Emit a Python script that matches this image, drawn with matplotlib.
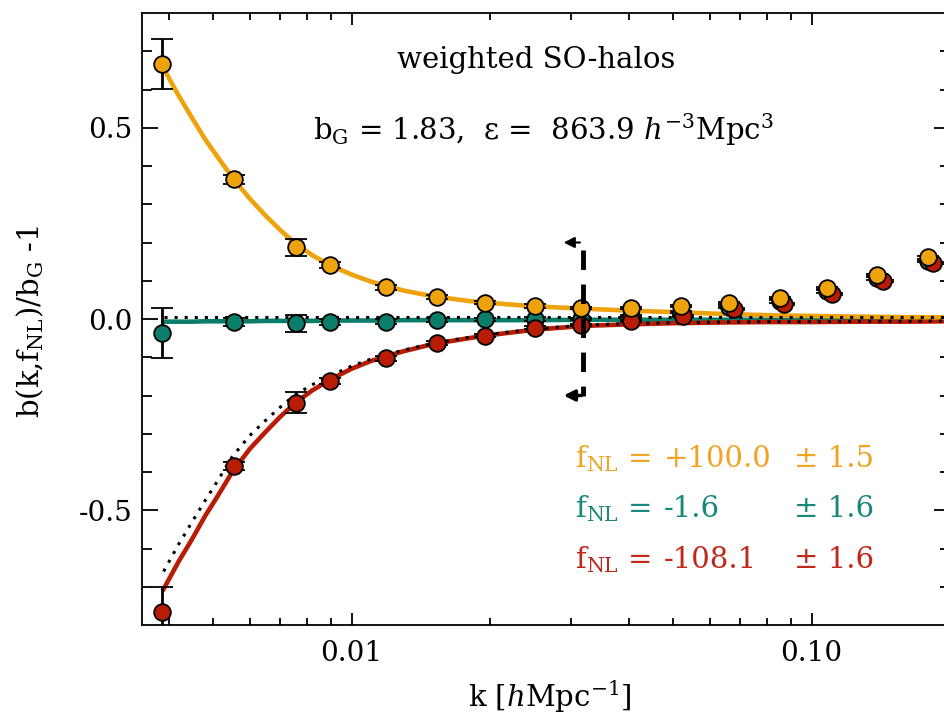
import numpy as np
import matplotlib
matplotlib.use('Agg')
import matplotlib.pyplot as plt

plt.rcParams['font.family'] = 'DejaVu Serif'
plt.rcParams['mathtext.fontset'] = 'custom'
plt.rcParams['mathtext.rm'] = 'DejaVu Serif'
plt.rcParams['mathtext.it'] = 'DejaVu Serif:italic'

# measured points
k = [0.00386, 0.00554, 0.00755, 0.00896, 0.0119, 0.0153, 0.0195, 0.0250,
     0.0316, 0.0404, 0.0519, 0.0663, 0.0852, 0.108, 0.139, 0.179]
k_red = [0.00386, 0.00554, 0.00755, 0.00896, 0.0119, 0.0153, 0.0195, 0.0250,
         0.0316, 0.0404, 0.0525, 0.0678, 0.0872, 0.111, 0.143, 0.184]
b_pos = [0.667, 0.365, 0.188, 0.141, 0.083, 0.057, 0.042, 0.034,
         0.029, 0.029, 0.034, 0.042, 0.055, 0.081, 0.115, 0.161]
b_zero = [-0.037, -0.008, -0.011, -0.008, -0.007, -0.003, -0.001, 0.0,
          0.0, 0.008, 0.018, 0.032, 0.046, 0.072, 0.106, 0.152]
b_neg = [-0.766, -0.385, -0.219, -0.161, -0.103, -0.0625, -0.044, -0.023,
         -0.016, -0.005, 0.008, 0.026, 0.040, 0.066, 0.100, 0.146]
err_pos = [0.065, 0.012, 0.022, 0.008, 0.006, 0.005, 0.004, 0.004,
           0.003, 0.003, 0.003, 0.003, 0.003, 0.003, 0.003, 0.003]
err_zero = [0.065, 0.010, 0.022, 0.008, 0.006, 0.005, 0.004, 0.004,
            0.003, 0.003, 0.003, 0.003, 0.003, 0.003, 0.003, 0.003]
err_neg = [0.065, 0.010, 0.027, 0.008, 0.006, 0.005, 0.004, 0.004,
           0.003, 0.003, 0.003, 0.003, 0.003, 0.003, 0.003, 0.003]

# model curves
k_mod = [0.0039, 0.0042, 0.0045, 0.0048, 0.0051, 0.0055, 0.006, 0.0065, 0.007,
         0.0075, 0.0082, 0.009, 0.01, 0.011, 0.012, 0.013, 0.0145, 0.016, 0.018,
         0.02, 0.025, 0.032, 0.04, 0.05, 0.065, 0.08, 0.1, 0.13, 0.16, 0.2]
fit_pos = [0.655, 0.585, 0.525, 0.47, 0.425, 0.37, 0.315, 0.27, 0.232,
           0.2, 0.167, 0.14, 0.116, 0.098, 0.085, 0.074, 0.063, 0.055, 0.047,
           0.042, 0.033, 0.027, 0.022, 0.018, 0.013, 0.010, 0.008, 0.006, 0.005, 0.004]
fit_zero = [-0.007, -0.007, -0.007, -0.006, -0.006, -0.006, -0.006, -0.005, -0.005,
            -0.005, -0.005, -0.004, -0.004, -0.004, -0.004, -0.003, -0.003, -0.003, -0.003,
            -0.003, -0.003, -0.002, -0.002, -0.002, -0.002, -0.002, -0.002, -0.002, -0.002, -0.002]
fit_neg = [-0.706, -0.635, -0.575, -0.515, -0.465, -0.40, -0.34, -0.295, -0.255,
           -0.222, -0.187, -0.158, -0.13, -0.11, -0.096, -0.084, -0.07, -0.06, -0.05,
           -0.042, -0.028, -0.018, -0.014, -0.011, -0.009, -0.008, -0.008, -0.007, -0.007, -0.006]
alt_neg = [-0.66, -0.59, -0.53, -0.475, -0.425, -0.36, -0.305, -0.265, -0.23,
           -0.2, -0.172, -0.148, -0.123, -0.105, -0.092, -0.081, -0.068, -0.058, -0.048,
           -0.04, -0.026, -0.016, -0.012, -0.010, -0.008, -0.007, -0.007, -0.006, -0.006, -0.005]
ref_zero = [0.005] * len(k_mod)

k_cut = 0.0318

c_or = '#eea20c'
c_te = '#0b7d6b'
c_re = '#b81c05'
c_or_t = '#f0a424'
c_te_t = '#1a877c'
c_re_t = '#c0281c'

fig = plt.figure(figsize=(9.45, 7.14), dpi=100)
ax = fig.add_axes([142/945, 89/714, 808/945, 612/714])

ax.plot(k_mod, fit_zero, color=c_te, lw=3.3, zorder=2)
ax.plot(k_mod, fit_neg, color=c_re, lw=3.3, zorder=2)
ax.plot(k_mod, fit_pos, color=c_or, lw=3.3, zorder=2)
ax.plot(k_mod, ref_zero, color='black', lw=2.2, ls=(0, (1, 2.3)), zorder=2.5)
ax.plot(k_mod, alt_neg, color='black', lw=2.2, ls=(0, (1, 2.3)), zorder=2.5)

for kk, y, e, c in [(k, b_zero, err_zero, c_te), (k_red, b_neg, err_neg, c_re), (k, b_pos, err_pos, c_or)]:
    ax.errorbar(kk, y, yerr=e, fmt='o', ms=12, mfc=c, mec='black', mew=1.3,
                ecolor='black', elinewidth=2, capsize=8, capthick=2, zorder=3)

# cut scale marker
ax.plot([k_cut, k_cut], [0.18, -0.2], color='black', lw=3.5, ls=(0, (4, 3)), zorder=4)
ax.annotate('', xy=(0.0285, 0.2), xytext=(k_cut, 0.2),
            arrowprops=dict(arrowstyle='-|>', color='black', lw=1.5, mutation_scale=16), zorder=4)
ax.annotate('', xy=(0.0285, -0.2), xytext=(k_cut + 0.0002, -0.2),
            arrowprops=dict(arrowstyle='-|>', color='black', lw=2.5, mutation_scale=16), zorder=4)

ax.set_xscale('log')
ax.set_xlim(0.0035, 0.2)
ax.set_ylim(-0.8, 0.8)
ax.set_xticks([0.01, 0.1])
ax.set_xticklabels(['0.01', '0.10'])
ax.set_xticks([i * 0.001 for i in range(4, 10)] + [i * 0.01 for i in range(2, 10)] + [0.2], minor=True)
ax.xaxis.set_minor_formatter(matplotlib.ticker.NullFormatter())
ax.set_yticks([-0.5, 0.0, 0.5])
ax.set_yticklabels(['-0.5', '0.0', '0.5'])
ax.set_yticks(np.arange(-0.7, 0.71, 0.1), minor=True)

ax.tick_params(axis='both', which='both', direction='in', top=True, right=True,
               labelsize=20, colors='black', width=1.3)
ax.tick_params(axis='x', which='major', length=8.6, pad=11)
ax.tick_params(axis='x', which='minor', length=5)
ax.tick_params(axis='y', which='major', length=11.5, pad=7)
ax.tick_params(axis='y', which='minor', length=7.2)
for s in ax.spines.values():
    s.set_linewidth(1.3)

def ax_x(px):
    return (px - 142) / 808

def ax_y(py):
    return (625 - py) / 612

fs = 21
ax.text(ax_x(536), ax_y(68), 'weighted SO-halos', fontsize=fs, ha='center', va='baseline',
        transform=ax.transAxes)
ax.text(ax_x(313), ax_y(140), r'b$_\mathrm{G}$ = 1.83,  ε =  863.9 $h^{-3}$Mpc$^3$',
        fontsize=fs, ha='left', va='baseline', transform=ax.transAxes)

rows = [('+100.0', '± 1.5', c_or_t, 467), ('-1.6', '± 1.6', c_te_t, 517), ('-108.1', '± 1.6', c_re_t, 568)]
for val, err, col, yb in rows:
    ax.text(ax_x(575), ax_y(yb), r'f$_\mathrm{NL}$ =', color=col, fontsize=fs, va='baseline',
            transform=ax.transAxes)
    ax.text(ax_x(664), ax_y(yb), val, color=col, fontsize=fs, va='baseline', transform=ax.transAxes)
    ax.text(ax_x(794), ax_y(yb), err, color=col, fontsize=fs, va='baseline', transform=ax.transAxes)

fig.text(550/945, (714-707)/714, r'k [$h$Mpc$^{-1}$]', fontsize=fs, ha='center', va='baseline')
fig.text(30/945, (714-322)/714, r'b(k,f$_\mathrm{NL}$)/b$_\mathrm{G}$ -1', fontsize=fs,
         rotation=90, ha='center', va='center')

fig.savefig('out.png', dpi=100)
